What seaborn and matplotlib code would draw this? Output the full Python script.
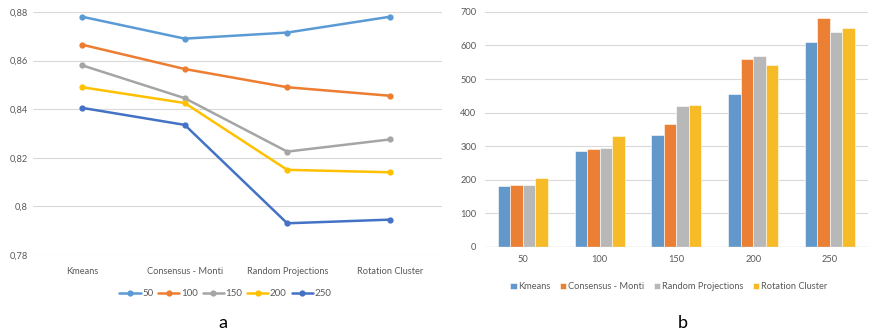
import matplotlib
matplotlib.use("Agg")
import matplotlib.pyplot as plt
import seaborn as sns
import pandas as pd

# methods on the x axis of the left chart / hue of the right chart
methods = ['Kmeans', 'Consensus - Monti', 'Random Projections', 'Rotation Cluster']
sizes = ['50', '100', '150', '200', '250']

# left chart: score per size, one value per method
score_50 = [0.878, 0.869, 0.8715, 0.878]
score_100 = [0.8665, 0.8565, 0.849, 0.8455]
score_150 = [0.858, 0.8445, 0.8225, 0.8275]
score_200 = [0.849, 0.8425, 0.815, 0.814]
score_250 = [0.8405, 0.8335, 0.793, 0.7945]

# right chart: value per size for each method
kmeans_vals = [182, 287, 334, 455, 611]
monti_vals = [185, 293, 366, 560, 683]
randproj_vals = [185, 296, 420, 569, 639]
rotation_vals = [204, 331, 423, 541, 652]

line_colors = ['#5B9BD5', '#ED7D31', '#A5A5A5', '#FFC000', '#4472C4']
bar_colors = ['#6398CB', '#EB7F34', '#B7B8B7', '#F6BB26']
txt = '#595959'
grid_c = '#D9D9D9'

sns.set_theme(style='white')
plt.rcParams['font.family'] = ['Lato', 'DejaVu Sans']

scores = [score_50, score_100, score_150, score_200, score_250]
rows = []
for s, vals in zip(sizes, scores):
    for m, v in zip(methods, vals):
        rows.append({'method': m, 'size': s, 'score': v})
df_line = pd.DataFrame(rows)

bars = [kmeans_vals, monti_vals, randproj_vals, rotation_vals]
rows = []
for m, vals in zip(methods, bars):
    for s, v in zip(sizes, vals):
        rows.append({'method': m, 'size': s, 'value': v})
df_bar = pd.DataFrame(rows)

fig = plt.figure(figsize=(8.7, 3.31), dpi=100)
ax1 = fig.add_axes([0.038, 0.230, 0.470, 0.734])
ax2 = fig.add_axes([0.557, 0.254, 0.441, 0.710])

# ---- left: lines
sns.lineplot(data=df_line, x='method', y='score', hue='size', palette=line_colors,
             marker='o', markersize=4.5, markeredgewidth=0, linewidth=1.8,
             sort=False, ax=ax1)
ax1.set_xlim(-0.48, 3.51)
ax1.set_ylim(0.78, 0.88)
ax1.set_yticks([0.78, 0.80, 0.82, 0.84, 0.86, 0.88])
ax1.set_yticklabels(['0,78', '0,8', '0,82', '0,84', '0,86', '0,88'])
ax1.grid(axis='y', color=grid_c, linewidth=0.8)
ax1.set_axisbelow(True)
for sp in ax1.spines.values():
    sp.set_visible(False)
ax1.tick_params(axis='both', length=0, labelsize=6.7, colors=txt, pad=4)
ax1.tick_params(axis='x', pad=9)
ax1.set_xlabel('')
ax1.set_ylabel('')
ax1.legend(loc='upper center', bbox_to_anchor=(0.47, -0.125), ncol=5, frameon=False,
           fontsize=7, labelcolor=txt, handlelength=2.2, handletextpad=0.15,
           columnspacing=0.5, borderaxespad=0)
fig.text(0.256, 0.01, 'a', fontsize=13, color='black', ha='center')

# ---- right: bars
sns.barplot(data=df_bar, x='size', y='value', hue='method', palette=bar_colors,
            width=0.65, saturation=1, edgecolor='white', linewidth=0.4, ax=ax2)
ax2.set_ylim(0, 700)
ax2.set_yticks(range(0, 701, 100))
ax2.set_xlim(-0.5, 4.5)
ax2.grid(axis='y', color=grid_c, linewidth=0.8)
ax2.set_axisbelow(True)
for sp in ax2.spines.values():
    sp.set_visible(False)
ax2.axhline(0, color=grid_c, linewidth=1)
ax2.tick_params(axis='both', length=0, labelsize=6.7, colors=txt, pad=6)
ax2.set_xlabel('')
ax2.set_ylabel('')
ax2.legend(loc='upper center', bbox_to_anchor=(0.48, -0.135), ncol=4, frameon=False,
           fontsize=6.7, labelcolor=txt, handlelength=0.7, handleheight=0.7,
           handletextpad=0.2, columnspacing=1.0, borderaxespad=0)
fig.text(0.785, 0.01, 'b', fontsize=13, color='black', ha='center')

fig.savefig('out.png', dpi=100)
